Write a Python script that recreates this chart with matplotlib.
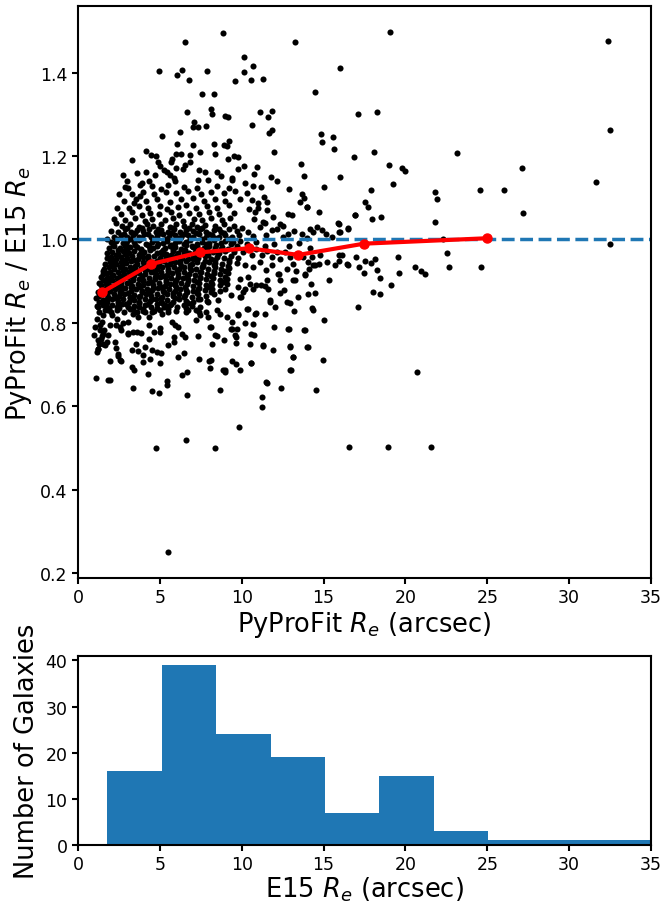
import numpy as np
import matplotlib
matplotlib.use("Agg")
import matplotlib.pyplot as plt

# PyProFit Re vs ratio PyProFit Re / E15 Re
# sparse points far out / isolated
outer = [(19.06,1.497),(32.38,1.477),(32.52,1.263),(31.64,1.139),(32.48,0.989),(27.12,1.172),(27.16,1.063),
         (26.02,1.118),(24.58,1.118),(23.17,1.207),(21.83,1.115),(21.93,1.098),(21.81,1.041),(22.3,1.002),
         (22.52,0.968),(22.66,0.933),(24.62,0.933),(16.0,1.412),(17.12,1.301),(18.27,1.305),(16.84,1.199),
         (18.08,1.209),(19.0,1.179),(19.77,1.172),(19.98,1.165),(19.24,1.134),(16.02,1.149),(17.88,1.118),
         (17.53,1.090),(17.70,1.079),(16.94,1.058),(17.94,1.050),(18.51,1.055),(16.49,1.027),(17.0,0.957),
         (18.12,0.954),(17.45,0.920),(17.17,0.935),(17.88,0.944),(18.25,0.926),(18.47,0.908),(19.55,0.957),
         (19.61,0.920),(20.57,0.933),(20.94,0.924),(21.18,0.917),(19.10,0.890),(18.04,0.874),(18.47,0.869),
         (16.47,0.939),(17.12,0.839),(20.69,0.682),(16.57,0.501),(18.96,0.501),(21.56,0.501),(17.53,0.948),
         (16.45,0.940),(16.01,1.018),(16.52,1.026),(16.93,1.059)]

# x between 10 and 16
mid = [(13.28,1.475),(10.16,1.438),(10.71,1.416),(10.14,1.402),(10.57,1.382),(11.30,1.386),(14.46,1.354),
       (11.12,1.307),(11.85,1.309),(11.59,1.293),(10.65,1.275),(11.83,1.263),(11.69,1.256),(14.84,1.253),
       (14.93,1.234),(15.56,1.245),(15.66,1.216),(11.95,1.211),(13.64,1.182),(13.83,1.152),(11.79,1.151),
       (12.18,1.140),(12.91,1.120),(15.04,1.126),(13.68,1.110),(13.81,1.099),(13.56,1.091),(13.99,1.079),
       (14.70,1.066),(12.81,1.061),(13.07,1.059),(15.94,1.038),(15.92,1.019),
       (10.14,1.176),(10.78,1.157),(10.96,1.175),(10.21,1.135),(10.72,1.129),(11.16,1.127),(10.61,1.095),
       (11.37,1.103),(11.53,1.089),(10.31,1.112),(10.82,1.066),(10.47,1.074),(11.02,1.076),(11.57,1.071),
       (11.94,1.054),(10.76,1.050),(11.28,1.041),(12.34,1.038),(12.55,1.032),(11.02,1.087),(11.43,1.039),
       (10.0,1.027),(10.41,1.018),(11.12,1.030),(11.83,1.022),(12.18,1.026),(12.85,1.014),(13.67,1.014),
       (14.18,1.026),(14.34,1.018),(14.63,1.030),(14.93,1.022),(15.15,1.014),(15.5,1.006),(10.7,1.008),
       (11.5,1.010),(12.5,1.005),(13.2,1.020),(14.0,1.004),(13.97,1.079),(15.91,1.039),
       (10.1,0.970),(10.61,0.962),(10.88,0.977),(11.22,0.962),(11.53,0.972),(11.83,0.958),(12.14,0.970),
       (12.34,0.954),(12.65,0.970),(12.95,0.958),(13.77,0.958),(14.28,0.958),(14.79,0.962),(10.3,0.988),
       (10.9,0.993),(11.4,0.985),(12.0,0.990),(12.9,0.985),(13.5,0.992),(14.2,0.980),(15.92,0.962),
       (16.11,0.962),(15.19,0.946),(15.70,0.938),(15.92,0.948),(14.70,0.940),(14.13,0.929),(14.37,0.938),
       (10.21,0.938),(10.71,0.934),(11.12,0.946),(11.49,0.926),(11.83,0.938),(12.3,0.918),(12.75,0.930),
       (13.16,0.942),(14.08,0.946),(14.48,0.938),(15.33,0.903),(15.03,0.807),(13.79,0.782),(14.01,0.742),
       (14.99,0.711),(12.99,0.687),(14.52,0.638),(12.40,0.643),(11.53,0.656),(11.26,0.621),(11.22,0.597),
       (13.15,0.718),(12.95,0.744),(11.89,0.735),(11.32,0.745),(10.75,0.772),(10.49,0.750),(10.57,0.703),
       (12.91,0.786),(11.99,0.791),(11.42,0.822),(10.83,0.822),(10.71,0.798),(10.20,0.800),(10.34,0.834),
       (11.73,0.850),(12.75,0.850),(12.95,0.848),(13.21,0.829),(13.42,0.862),(14.27,0.836),(14.34,0.830),
       (14.21,0.892),(14.48,0.872),(14.07,0.870),(12.34,0.872),(12.58,0.878),(11.44,0.888),(11.56,0.902),
       (12.34,0.902),(13.15,0.902),(13.30,0.924),(13.87,0.914),(10.85,0.890),(10.67,0.882),(10.20,0.882),
       (10.10,0.874),(9.9,0.862),(9.9,0.906),(10.38,0.910),(10.49,0.894),(11.2,0.890),(11.6,0.882),
       (12.22,0.918),(13.24,0.902),(13.85,0.918),(10.38,0.834),(10.89,0.824),(11.71,0.854),(12.01,0.838),
       (10.59,0.774),(11.3,0.746),(12.83,0.786),(13.85,0.782),(14.05,0.742),(13.13,0.718),(10.59,0.703),
       (12.93,0.686),(11.5,0.658),(12.93,0.742)]

# x < 10, above 1.13
upper = [(8.84,1.495),(6.54,1.474),(4.97,1.405),(6.33,1.406),(6.07,1.394),(7.86,1.405),(6.80,1.382),
         (9.59,1.381),(7.56,1.350),(8.29,1.350),(6.64,1.307),(8.13,1.313),(8.21,1.301),(8.98,1.297),
         (9.19,1.293),(7.09,1.281),(7.05,1.269),(7.31,1.270),(7.82,1.272),(5.11,1.249),(6.25,1.258),
         (6.03,1.229),(7.03,1.227),(8.29,1.229),(8.90,1.227),(9.23,1.236),(9.10,1.224),(4.13,1.212),
         (4.46,1.203),(4.75,1.201),(5.72,1.193),(5.66,1.187),(6.01,1.204),(6.29,1.204),(6.86,1.203),
         (7.43,1.209),(8.37,1.206),(9.55,1.200),(9.80,1.198),(9.14,1.192),(6.54,1.179),(6.84,1.187),
         (5.03,1.177),(5.28,1.166),(5.42,1.161),(5.62,1.155),(5.89,1.147),(6.01,1.171),(6.40,1.168),
         (4.13,1.161),(7.41,1.166),(7.76,1.163),(8.49,1.163),(8.72,1.152),(9.43,1.147),(9.76,1.168),
         (2.97,1.140),(3.79,1.131),(4.34,1.140),(5.93,1.140),(7.35,1.143),(7.96,1.142),(9.39,1.143),
         (2.4,1.075),(2.5,1.108),(3.4,1.088),(3.9,1.135),(2.9,1.125),(3.6,1.16),(4.7,1.155),(4.9,1.185),
         (3.3,1.19),(2.75,1.155),(5.5,1.13),(3.8,1.105),(2.3,1.04),(2.2,1.05),(2.0,1.02),(1.8,1.0)]

# x < 10, band just above the dashed line
band = [(2.2,1.006),(2.6,1.010),(3.0,1.005),(3.35,1.011),(3.7,1.007),(4.05,1.012),(4.45,1.005),(4.8,1.009),
        (5.2,1.012),(5.55,1.006),(5.9,1.010),(6.3,1.005),(6.7,1.011),(7.05,1.007),(7.4,1.012),(7.8,1.006),
        (8.2,1.010),(8.6,1.005),(9.0,1.011),(9.4,1.007),(9.85,1.010),
        (2.45,1.019),(2.9,1.024),(3.25,1.018),(3.6,1.023),(4.0,1.020),(4.35,1.025),(4.75,1.018),(5.1,1.022),
        (5.5,1.019),(5.85,1.025),(6.25,1.018),(6.6,1.023),(7.0,1.020),(7.45,1.024),(7.85,1.018),(8.3,1.022),
        (8.75,1.019),(9.2,1.025),(9.7,1.021),
        (2.7,1.032),(3.2,1.037),(3.75,1.031),(4.2,1.036),(4.6,1.033),(5.05,1.038),(5.6,1.031),(6.0,1.036),
        (6.5,1.033),(6.95,1.038),(7.3,1.031),(7.75,1.035),(8.4,1.032),(8.9,1.037),(9.5,1.033),
        (2.9,1.046),(3.5,1.051),(4.1,1.045),(4.55,1.050),(5.3,1.047),(5.8,1.052),(6.4,1.045),(7.1,1.050),
        (7.6,1.046),(8.15,1.052),(8.8,1.047),(9.3,1.051),
        (2.6,1.060),(3.3,1.065),(3.9,1.059),(4.4,1.064),(4.95,1.061),(5.7,1.066),(6.15,1.059),(6.8,1.064),
        (7.4,1.061),(8.0,1.066),(8.6,1.060),(9.55,1.064),
        (3.1,1.075),(3.7,1.081),(4.3,1.076),(5.0,1.080),(5.45,1.074),(6.1,1.079),(6.6,1.083),(7.2,1.076),
        (7.9,1.080),(8.5,1.075),(9.2,1.082),
        (2.8,1.092),(3.55,1.098),(4.15,1.093),(4.8,1.097),(5.6,1.091),(6.3,1.096),(7.0,1.099),(7.7,1.093),
        (8.35,1.097),(9.0,1.092),(9.9,1.098),
        (3.3,1.110),(4.0,1.115),(4.65,1.109),(5.35,1.114),(6.0,1.111),(6.75,1.116),(7.5,1.110),(8.1,1.115),
        (8.9,1.112),(9.6,1.117),
        (3.05,1.123),(4.5,1.128),(5.1,1.122),(6.5,1.127),(7.25,1.124),(8.5,1.129),(9.2,1.123),
        (2.4,1.002),(3.15,1.001),(3.9,1.003),(4.6,1.001),(5.35,1.002),(6.1,1.003),(6.85,1.001),(7.6,1.002),
        (8.4,1.003),(9.2,1.001),(2.8,1.014),(3.5,1.016),(4.25,1.014),(5.0,1.015),(5.75,1.016),(6.5,1.014),
        (7.2,1.016),(8.0,1.014),(8.9,1.015),(3.0,1.027),(3.9,1.028),(4.9,1.026),(5.8,1.028),(6.8,1.027),
        (7.6,1.028),(8.6,1.026)]

# dense core below the dashed line
core = [(2.0,.993),(2.3,.997),(2.75,.991),(3.0,.996),(3.45,.994),(3.7,.999),(4.15,.990),(4.5,.995),(4.75,.998),
        (5.2,.992),(5.45,.996),(5.9,.991),(6.15,.997),(6.6,.993),(6.85,.999),(7.3,.990),(7.55,.995),(8.0,.992),
        (8.3,.998),(8.75,.991),(9.0,.996),(9.45,.993),(9.9,.997),
        (1.9,.980),(2.2,.984),(2.55,.979),(2.9,.985),(3.15,.981),(3.6,.983),(3.85,.978),(4.25,.986),(4.6,.980),
        (4.85,.984),(5.3,.979),(5.6,.985),(5.95,.982),(6.3,.978),(6.6,.986),(7.0,.981),(7.3,.984),(7.7,.979),
        (8.0,.985),(8.4,.980),(8.8,.983),(9.15,.978),(9.7,.984),
        (1.8,.967),(2.1,.971),(2.45,.966),(2.75,.972),(3.1,.968),(3.4,.973),(3.8,.966),(4.05,.970),(4.4,.974),
        (4.8,.967),(5.1,.971),(5.4,.966),(5.8,.972),(6.1,.968),(6.45,.973),(6.8,.967),(7.15,.970),(7.45,.974),
        (7.85,.966),(8.25,.971),(8.6,.968),(9.0,.972),(9.55,.969),
        (1.75,.955),(2.0,.958),(2.35,.953),(2.65,.959),(3.0,.956),(3.3,.961),(3.65,.954),(4.0,.958),(4.3,.953),
        (4.65,.960),(5.0,.955),(5.35,.959),(5.65,.954),(6.0,.961),(6.35,.956),(6.7,.953),(7.05,.959),(7.35,.955),
        (7.75,.960),(8.1,.954),(8.5,.958),(8.9,.955),(9.35,.960),(9.8,.956),
        (1.65,.942),(1.95,.946),(2.3,.941),(2.6,.947),(2.95,.943),(3.25,.948),(3.6,.941),(3.95,.945),(4.25,.942),
        (4.55,.947),(4.95,.944),(5.25,.948),(5.6,.941),(5.95,.945),(6.25,.943),(6.6,.948),(6.95,.942),(7.3,.946),
        (7.65,.941),(8.0,.947),(8.4,.944),(8.8,.942),(9.2,.947),(9.7,.943),
        (1.6,.929),(1.9,.933),(2.2,.928),(2.55,.934),(2.85,.930),(3.2,.935),(3.5,.928),(3.85,.932),(4.2,.929),
        (4.5,.934),(4.85,.930),(5.15,.935),(5.5,.928),(5.85,.933),(6.2,.929),(6.5,.934),(6.85,.931),(7.2,.928),
        (7.55,.934),(7.95,.930),(8.35,.933),(8.75,.929),(9.25,.932),
        (1.55,.916),(1.8,.920),(2.15,.915),(2.45,.921),(2.8,.917),(3.1,.922),(3.45,.915),(3.75,.919),(4.1,.916),
        (4.45,.921),(4.75,.917),(5.1,.922),(5.45,.915),(5.75,.920),(6.1,.916),(6.45,.921),(6.8,.918),(7.15,.915),
        (7.5,.921),(7.9,.917),(8.3,.920),(8.7,.916),(9.15,.919),
        (1.5,.903),(1.75,.907),(2.1,.902),(2.4,.908),(2.7,.904),(3.05,.909),(3.35,.902),(3.7,.906),(4.0,.903),
        (4.35,.908),(4.7,.904),(5.0,.909),(5.35,.902),(5.7,.907),(6.0,.903),(6.4,.908),(6.75,.905),(7.1,.902),
        (7.45,.908),(7.85,.904),(8.25,.907),(8.65,.903),(9.1,.906),
        (1.4,.890),(1.7,.894),(2.0,.889),(2.35,.895),(2.65,.891),(3.0,.896),(3.3,.889),(3.65,.893),(3.95,.890),
        (4.3,.895),(4.6,.891),(4.95,.896),(5.3,.889),(5.6,.894),(5.95,.890),(6.3,.895),(6.65,.892),(7.05,.889),
        (7.4,.895),(7.8,.891),(8.2,.894),(8.65,.890),(9.1,.893),
        (1.35,.877),(1.65,.881),(1.95,.876),(2.25,.882),(2.6,.878),(2.9,.883),(3.25,.876),(3.55,.880),(3.9,.877),
        (4.2,.882),(4.55,.878),(4.9,.883),(5.2,.876),(5.55,.881),(5.9,.877),(6.25,.882),(6.6,.879),(7.0,.876),
        (7.35,.882),(7.75,.878),(8.2,.881),(8.65,.877),
        (1.3,.864),(1.55,.868),(1.85,.863),(2.2,.869),(2.5,.865),(2.8,.870),(3.15,.863),(3.45,.867),(3.8,.864),
        (4.15,.869),(4.45,.865),(4.8,.870),(5.15,.863),(5.45,.868),(5.8,.864),(6.2,.869),(6.55,.866),(6.95,.863),
        (7.35,.869),(7.8,.865),(8.3,.868),
        (1.3,.851),(1.55,.855),(1.8,.850),(2.1,.856),(2.45,.852),(2.75,.857),(3.1,.850),(3.4,.854),(3.75,.851),
        (4.1,.856),(4.4,.852),(4.75,.857),(5.1,.850),(5.45,.855),(5.8,.851),(6.2,.856),(6.6,.853),(7.0,.850),
        (7.45,.856),(7.9,.852),
        (1.25,.838),(1.5,.842),(1.75,.837),(2.05,.843),(2.4,.839),(2.7,.844),(3.05,.837),(3.4,.841),(3.7,.838),
        (4.1,.843),(4.45,.839),(4.85,.844),(5.25,.837),(5.65,.842),(6.05,.838),(6.5,.843),(6.95,.840),(7.45,.837),
        (1.3,.826),(1.65,.831),(2.0,.825),(2.4,.830),(2.8,.827),(3.2,.832),(3.6,.825),(4.0,.829),(4.5,.826),
        (5.0,.831),(5.5,.825),(6.0,.829),(6.6,.826),(7.2,.831),(7.8,.827),(8.5,.830),
        (1.04,.79),(1.1,.86),(1.15,.84),(1.2,.875),(1.3,.895),(1.4,.91),(1.5,.925),(1.15,.81),(1.0,.77)]

# more points packed in between the core rows
fill = [(2.15,.986),(2.95,.989),(3.5,.987),(4.35,.985),(4.9,.989),(5.7,.987),(6.45,.988),(6.95,.985),(7.85,.989),
        (8.45,.986),(9.35,.988),
        (2.45,.975),(3.0,.977),(3.85,.974),(4.4,.976),(5.2,.975),(5.8,.977),(6.55,.974),(7.3,.976),(7.9,.975),
        (8.75,.977),(9.5,.974),
        (2.3,.962),(2.9,.964),(3.7,.963),(4.3,.961),(5.15,.964),(5.7,.962),(6.5,.964),(7.1,.961),(7.95,.963),
        (8.55,.964),
        (2.1,.949),(2.9,.951),(3.45,.950),(4.25,.952),(4.85,.949),(5.7,.951),(6.25,.950),(7.05,.952),(7.75,.949),
        (8.4,.951),(9.25,.950),
        (2.15,.936),(2.7,.938),(3.5,.937),(4.05,.939),(4.9,.936),(5.45,.938),(6.3,.937),(6.85,.939),(7.65,.936),
        (8.3,.938),(9.15,.937),
        (1.95,.923),(2.75,.925),(3.25,.924),(4.1,.926),(4.65,.923),(5.5,.925),(6.05,.924),(6.9,.926),(7.45,.923),
        (8.3,.925),(8.95,.924),
        (2.0,.910),(2.55,.912),(3.35,.911),(3.9,.913),(4.7,.910),(5.25,.912),(6.1,.911),(6.65,.913),(7.45,.910),
        (8.1,.912),(9.0,.911),
        (1.85,.897),(2.6,.899),(3.15,.898),(3.95,.900),(4.5,.897),(5.35,.899),(5.9,.898),(6.75,.900),(7.3,.897),
        (8.15,.899),(8.85,.898),
        (1.9,.884),(2.45,.886),(3.25,.885),(3.8,.887),(4.6,.884),(5.15,.886),(6.0,.885),(6.55,.887),(7.4,.884),
        (8.0,.886),
        (1.75,.871),(2.55,.873),(3.05,.872),(3.9,.874),(4.4,.871),(5.25,.873),(5.8,.872),(6.65,.874),(7.25,.871),
        (8.1,.873),
        (1.8,.858),(2.35,.860),(3.15,.859),(3.7,.861),(4.5,.858),(5.05,.860),(5.9,.859),(6.45,.861),(7.35,.858),
        (1.7,.845),(2.45,.847),(2.95,.846),(3.75,.848),(4.3,.845),(5.15,.847),(5.7,.846),(6.7,.848),
        (1.9,.833),(2.5,.835),(3.35,.834),(3.95,.833),(4.85,.835),(5.5,.834),(6.6,.835)]

# x < 10, below the core
lower = [(1.08,0.667),(1.81,0.663),(1.95,0.663),(1.95,0.708),(2.46,0.721),(2.63,0.709),(2.32,0.739),
         (1.14,0.731),(1.24,0.738),(1.20,0.760),(1.45,0.768),(1.65,0.748),(1.75,0.755),(1.85,0.772),
         (1.61,0.782),(1.95,0.795),(1.45,0.801),(1.36,0.795),(3.07,0.776),(3.34,0.778),(3.59,0.778),
         (3.85,0.775),(3.28,0.736),(3.68,0.732),(3.97,0.723),(4.09,0.741),(4.50,0.735),(4.81,0.730),
         (5.05,0.728),(3.32,0.695),(3.40,0.687),(3.34,0.644),(3.95,0.706),(4.42,0.713),(4.26,0.678),
         (5.03,0.704),(4.52,0.636),(4.97,0.631),(4.34,0.762),(4.64,0.778),(4.34,0.794),(5.03,0.788),
         (5.42,0.660),(5.44,0.652),(5.52,0.747),(5.86,0.767),(5.86,0.754),(6.13,0.719),(6.33,0.674),
         (6.46,0.727),(6.68,0.683),(6.64,0.628),(4.74,0.500),(6.62,0.520),(8.37,0.500),(5.52,0.250),
         (7.39,0.713),(8.02,0.708),(8.08,0.691),(7.33,0.768),(8.20,0.750),(8.67,0.640),(8.98,0.687),
         (8.98,0.682),(8.90,0.760),(9.39,0.709),(9.65,0.701),(9.65,0.752),(9.67,0.767),(9.43,0.784),
         (9.71,0.784),(9.39,0.802),(9.81,0.551),(9.90,0.687),
         (9.79,0.820),(9.08,0.814),(8.67,0.821),(8.47,0.768),(8.06,0.789),(7.96,0.814),(7.39,0.826),
         (7.19,0.806),(6.74,0.830),(6.54,0.766),(6.33,0.774),(5.72,0.802),(5.93,0.794),(6.13,0.790),
         (5.01,0.778),(5.11,0.822),(5.31,0.842),(4.62,0.828),(4.34,0.814),(4.09,0.826),(3.68,0.814),
         (3.38,0.822),(3.07,0.802),(2.73,0.800),(2.57,0.790),(2.36,0.810),(2.06,0.818),(1.85,0.830),
         (1.55,0.818),(1.32,0.782),(1.53,0.774),(1.43,0.762),(1.26,0.750),(1.53,0.750),(1.22,0.738),
         (2.34,0.794),(2.65,0.782),(2.24,0.754),(2.44,0.726),(2.55,0.710),(3.05,0.774),(3.56,0.750),
         (8.96,0.882),(9.37,0.866),(9.98,0.862),(9.77,0.886),(9.77,0.818),(8.14,0.790),(8.35,0.770),
         (9.37,0.786),(9.57,0.770),(8.14,0.710),(8.86,0.686),(7.43,0.818),(7.94,0.850),(8.55,0.854)]

# running median (red)
bin_x = [1.45, 4.46, 7.43, 10.44, 13.46, 17.47, 25.0]
bin_y = [0.873, 0.941, 0.969, 0.979, 0.963, 0.990, 1.003]

# histogram of E15 Re
hist_edges = [1.79, 5.115, 8.44, 11.765, 15.09, 18.415, 21.74, 25.065, 28.39, 31.715, 35.04]
hist_counts = [16, 39, 24, 19, 7, 15, 3, 1, 1, 1]

pts = np.array(outer + mid + upper + band + core + fill + lower)

plt.rcParams['font.size'] = 12
fig = plt.figure(figsize=(6.63, 9.03), dpi=100)

ax1 = fig.add_axes([0.1176, 0.3588, 0.8643, 0.6330])
ax1.plot(pts[:, 0], pts[:, 1], 'o', color='k', ms=4.4, mew=0, ls='none')
ax1.axhline(1.0, color='C0', ls='--', lw=2.5)
ax1.plot(bin_x, bin_y, 'r-o', lw=3, ms=6.5)
ax1.set_xlim(0, 35)
ax1.set_xlabel(r'PyProFit $R_e$ (arcsec)', fontsize=18.5, labelpad=2)
ax1.set_ylabel(r'PyProFit $R_e$ / E15 $R_e$', fontsize=18.5)

ax2 = fig.add_axes([0.1176, 0.0631, 0.8643, 0.2093])
ax2.hist(hist_edges[:-1], bins=hist_edges, weights=hist_counts, color='C0')
ax2.set_xlim(0, 35)
ax2.set_xlabel(r'E15 $R_e$ (arcsec)', fontsize=18.5, labelpad=1)
ax2.set_ylabel('Number of Galaxies', fontsize=18.5)

for ax in (ax1, ax2):
    ax.tick_params(labelsize=12.5, width=1.5, length=4)
    for s in ax.spines.values():
        s.set_linewidth(1.5)

fig.savefig('out.png', dpi=100)
